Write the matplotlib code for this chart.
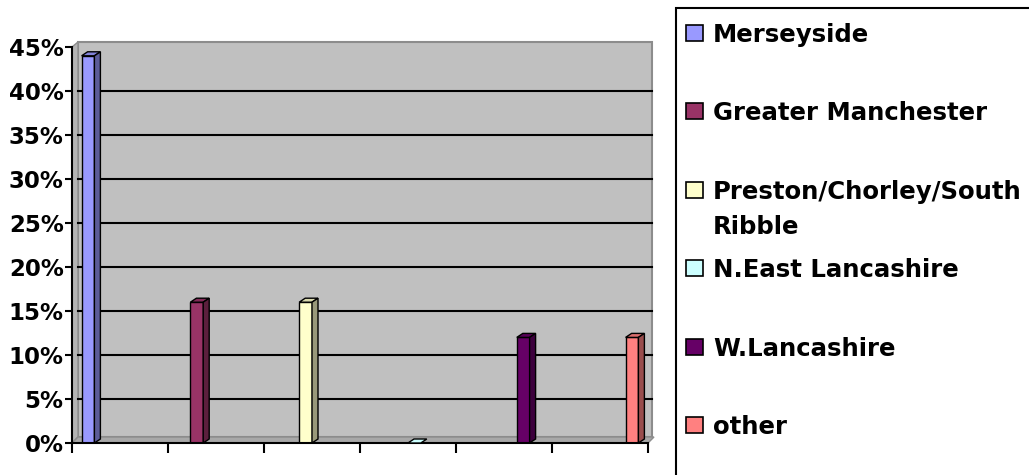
import matplotlib.pyplot as plt
import matplotlib.colors as mcolors
from matplotlib.patches import Rectangle, Polygon
from matplotlib.transforms import IdentityTransform

# Data
regions = ["Merseyside", "Greater Manchester", "Preston/Chorley/South\nRibble",
           "N.East Lancashire", "W.Lancashire", "other"]
shares = [44, 16, 16, 0, 12, 12]
colors = ["#9999FF", "#993366", "#FFFFCC", "#CCFFFF", "#660066", "#FF8080"]
y_ticks = [0, 5, 10, 15, 20, 25, 30, 35, 40, 45]

W, H = 1029, 475
plt.rcParams["font.family"] = "DejaVu Sans"
plt.rcParams["font.weight"] = "bold"

fig = plt.figure(figsize=(W / 100, H / 100), dpi=100)


def fx(x):
    return x / W


def fy(y):
    return 1 - y / H


ax = fig.add_axes([fx(72), fy(443), (648 - 72) / W, (443 - 47) / H])
ax.set_xlim(-0.5, 5.5)
ax.set_ylim(0, 45)
ax.patch.set_visible(False)

# 3D-ish walls behind the axes
fig.patches.append(Rectangle((fx(78), fy(437)), (652 - 78) / W, (437 - 42) / H,
                             transform=fig.transFigure, facecolor="#C0C0C0",
                             edgecolor="#8C8C8C", lw=1.5, zorder=-2))
fig.patches.append(Polygon([(fx(72), fy(443)), (fx(72), fy(47)), (fx(78), fy(42)), (fx(78), fy(437))],
                           closed=True, transform=fig.transFigure, facecolor="#B4B4B4",
                           edgecolor="#8C8C8C", lw=1, zorder=-2))
fig.patches.append(Polygon([(fx(72), fy(443)), (fx(648), fy(443)), (fx(654), fy(437)), (fx(78), fy(437))],
                           closed=True, transform=fig.transFigure, facecolor="#A8A8A8",
                           edgecolor="#8C8C8C", lw=1, zorder=-2))

# gridlines on the back wall
for v in y_ticks[1:-1]:
    ax.axhline(v, xmin=6 / 576, xmax=(652 - 72) / 576, color="black", lw=1.5,
               zorder=1, clip_on=False)

# clustered bars, one series per category
n = len(shares)
width = 0.8 / n
xs = [i + (i - (n - 1) / 2) * width for i in range(n)]
bars = ax.bar(xs, shares, width=width, color=colors, edgecolor="black", linewidth=1, zorder=3)

dx, dy = 6, 4
for b, c in zip(bars, colors):
    x0, y0 = ax.transData.transform((b.get_x(), 0))
    x1, y1 = ax.transData.transform((b.get_x() + b.get_width(), b.get_height()))
    rgb = mcolors.to_rgb(c)
    top_c = tuple(v * 0.85 for v in rgb)
    side_c = tuple(v * 0.6 for v in rgb)
    top = Polygon([(x0, y1), (x1, y1), (x1 + dx, y1 + dy), (x0 + dx, y1 + dy)], closed=True,
                  transform=IdentityTransform(), facecolor=top_c if b.get_height() > 0 else c,
                  edgecolor="black", lw=1, zorder=4)
    fig.patches.append(top)
    if b.get_height() > 0:
        side = Polygon([(x1, y0), (x1, y1), (x1 + dx, y1 + dy), (x1 + dx, y0 + dy)], closed=True,
                       transform=IdentityTransform(), facecolor=side_c,
                       edgecolor="black", lw=1, zorder=4)
        fig.patches.append(side)

# axes styling
ax.set_yticks(y_ticks, labels=[f"{v}%" for v in y_ticks])
ax.set_xticks([i - 0.5 for i in range(n + 1)], labels=[])
ax.tick_params(axis="y", length=5, width=1.5, pad=1, labelsize=16.5)
ax.tick_params(axis="x", length=7, width=1.5)
for s in ["top", "right"]:
    ax.spines[s].set_visible(False)
for s in ["left", "bottom"]:
    ax.spines[s].set_linewidth(1.5)
    ax.spines[s].set_zorder(5)

# legend box, drawn by hand
fig.patches.append(Rectangle((fx(676), fy(490)), (1050 - 676) / W, (490 - 8) / H,
                             transform=fig.transFigure, fill=False, edgecolor="black", lw=1.5))
for i, (lab, c) in enumerate(zip(regions, colors)):
    yc = 33 + i * 78.4
    fig.patches.append(Rectangle((fx(686), fy(yc + 8)), 17 / W, 16 / H, transform=fig.transFigure,
                                 facecolor=c, edgecolor="black", lw=1.2))
    extra = 35 * lab.count("\n")
    fig.text(fx(713), fy(yc + 9 + extra), lab, fontsize=17.6, fontweight="bold", va="baseline",
             ha="left", linespacing=1.56)

fig.savefig("out.png", dpi=100)
